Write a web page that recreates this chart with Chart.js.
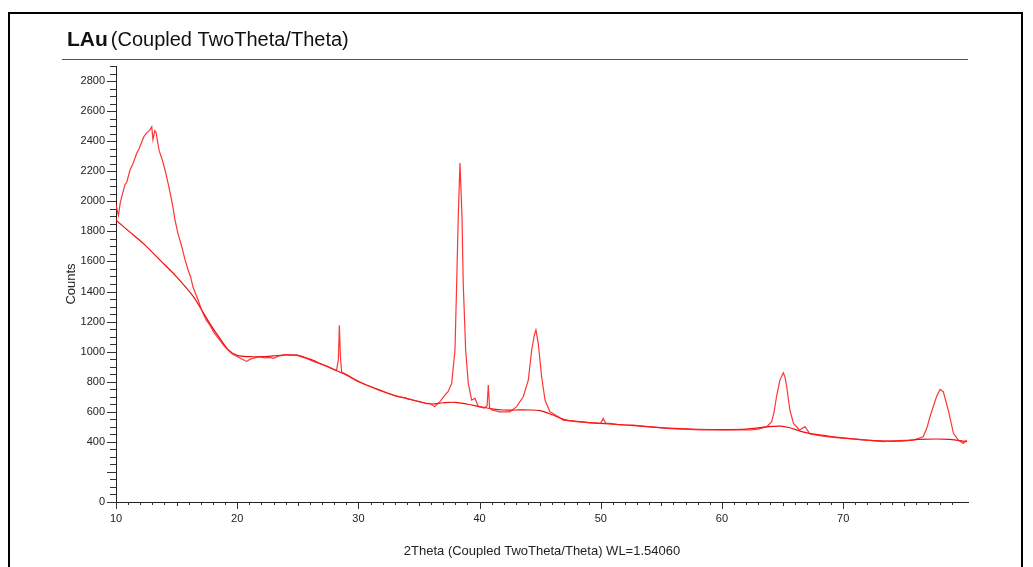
<!DOCTYPE html>
<html>
<head>
<meta charset="utf-8">
<script src="https://cdn.jsdelivr.net/npm/chart.js@4/dist/chart.umd.min.js"></script>
<style>
  html, body { margin: 0; padding: 0; background: #fff; }
  #wrap { width: 1033px; height: 567px; }
</style>
</head>
<body>
<div id="wrap"><canvas id="xrd"></canvas></div>
<script>
// measured pattern (2Theta in degrees, counts)
const twoTheta = [10.0, 10.1, 10.2, 10.35, 10.5, 10.74, 10.9, 11.16, 11.4, 11.71, 11.9, 12.12, 12.3, 12.53, 12.75, 12.95, 13.05, 13.2, 13.3, 13.55, 13.8, 14.04, 14.3, 14.51, 14.7, 14.87, 15.1, 15.42, 15.7, 15.94, 16.15, 16.35, 16.55, 16.77, 17.0, 17.18, 17.45, 17.76, 18.1, 18.58, 18.9, 19.24, 19.6, 19.96, 20.3, 20.78, 21.08, 21.5, 21.88, 22.3, 22.7, 22.98, 23.4, 23.7, 24.08, 24.5, 24.9, 25.3, 25.73, 26.3, 26.83, 27.4, 27.93, 28.2, 28.35, 28.43, 28.52, 28.62, 29.1, 29.58, 30.1, 30.68, 31.2, 31.78, 32.3, 32.88, 33.4, 33.98, 34.5, 35.08, 35.6, 35.9, 36.3, 36.73, 37.15, 37.4, 37.7, 37.97, 38.11, 38.24, 38.38, 38.55, 38.65, 38.85, 39.07, 39.35, 39.62, 39.9, 40.4, 40.62, 40.72, 40.82, 41.0, 41.68, 42.5, 43.06, 43.6, 44.02, 44.3, 44.49, 44.65, 44.84, 45.12, 45.4, 45.8, 46.5, 46.9, 47.6, 48.3, 49.0, 49.66, 50.0, 50.2, 50.4, 50.76, 51.4, 52.1, 52.68, 53.5, 54.4, 55.44, 56.3, 57.2, 58.2, 59.3, 60.4, 61.3, 62.3, 63.0, 63.7, 64.1, 64.3, 64.5, 64.78, 65.06, 65.2, 65.34, 65.6, 65.9, 66.4, 66.85, 67.26, 68.2, 69.18, 70.5, 71.94, 73.3, 74.5, 75.78, 76.6, 76.9, 77.16, 77.7, 77.99, 78.26, 78.67, 79.1, 79.5, 79.9, 80.2];
const counts = [1980, 1940, 1905, 1990, 2040, 2110, 2130, 2210, 2250, 2320, 2350, 2395, 2430, 2455, 2470, 2495, 2410, 2470, 2460, 2340, 2280, 2210, 2120, 2040, 1960, 1875, 1790, 1700, 1610, 1545, 1500, 1430, 1390, 1345, 1290, 1255, 1210, 1175, 1125, 1075, 1040, 1010, 985, 970, 955, 935, 950, 960, 965, 958, 962, 955, 970, 975, 980, 975, 978, 965, 955, 935, 920, 905, 885, 875, 950, 1175, 960, 865, 845, 822, 800, 778, 760, 745, 728, 712, 700, 690, 678, 667, 655, 656, 634, 667, 712, 734, 789, 1011, 1455, 1898, 2254, 1898, 1455, 1011, 789, 678, 690, 634, 625, 640, 778, 630, 612, 600, 600, 634, 700, 811, 1011, 1100, 1144, 1055, 833, 678, 600, 567, 545, 540, 534, 528, 523, 525, 556, 525, 523, 515, 512, 512, 505, 498, 490, 487, 483, 479, 480, 479, 481, 479, 485, 501, 534, 600, 700, 811, 860, 830, 767, 612, 523, 479, 501, 452, 440, 430, 422, 412, 401, 408, 412, 434, 490, 567, 700, 749, 734, 612, 457, 412, 390, 412];

// fitted background
const bgTheta = [10.0, 11.0, 12.25, 13.63, 15.0, 16.4, 17.07, 17.8, 18.6, 19.3, 20.0, 21.0, 22.0, 23.0, 24.0, 25.0, 26.0, 27.0, 28.0, 29.0, 30.0, 31.0, 32.0, 33.0, 34.0, 35.0, 36.0, 37.0, 38.0, 39.0, 40.0, 41.0, 42.0, 43.0, 44.0, 45.0, 46.0, 47.0, 48.0, 50.0, 52.0, 54.0, 56.0, 58.0, 60.0, 62.0, 63.7, 64.8, 65.6, 66.5, 67.3, 69.2, 71.9, 74.7, 76.3, 78.8, 80.2];
const bgCounts = [1875, 1805, 1720, 1609, 1498, 1365, 1277, 1180, 1085, 1010, 975, 967, 967, 972, 978, 975, 950, 915, 880, 845, 800, 768, 735, 708, 688, 668, 652, 660, 663, 650, 635, 620, 612, 612, 612, 608, 580, 548, 535, 523, 512, 500, 490, 484, 482, 485, 500, 505, 494, 470, 455, 434, 412, 405, 417, 417, 401];

const xTickValues = [10, 20, 30, 40, 50, 60, 70];
const yTickLabels = [0, 400, 600, 800, 1000, 1200, 1400, 1600, 1800, 2000, 2200, 2400, 2600, 2800];

const toPoints = (xs, ys) => xs.map((x, i) => ({ x: x, y: ys[i] }));
const FONT = "'Liberation Sans', Arial, sans-serif";

// frame, title and the small tick marks
const decorations = {
    id: "decorations",
    afterDraw(chart) {
        const ctx = chart.ctx;
        const xs = chart.scales.x;
        const ys = chart.scales.y;
        ctx.save();
        ctx.strokeStyle = "#000";
        ctx.lineWidth = 2;
        ctx.strokeRect(9, 13, 1013, 600);

        ctx.fillStyle = "#111";
        ctx.textBaseline = "alphabetic";
        ctx.font = "bold 21px " + FONT;
        ctx.fillText("LAu", 67, 46);
        const w = ctx.measureText("LAu").width;
        ctx.font = "20px " + FONT;
        ctx.fillText("(Coupled TwoTheta/Theta)", 67 + w + 3, 46);

        ctx.strokeStyle = "#555";
        ctx.lineWidth = 1;
        ctx.beginPath();
        ctx.moveTo(62, 59.5);
        ctx.lineTo(968, 59.5);
        ctx.stroke();

        ctx.strokeStyle = "#333";
        ctx.beginPath();
        for (let v = 0; v <= 2900; v += 50) {
            const py = Math.round(ys.getPixelForValue(v)) + 0.5;
            const len = v % 200 === 0 ? 9 : 6;
            ctx.moveTo(xs.left - len, py);
            ctx.lineTo(xs.left, py);
        }
        for (let d = 10; d <= 79; d += 1) {
            const px = Math.round(xs.getPixelForValue(d)) + 0.5;
            const len = d % 10 === 0 ? 7 : (d % 5 === 0 ? 4 : 3);
            ctx.moveTo(px, ys.bottom);
            ctx.lineTo(px, ys.bottom + len);
        }
        ctx.stroke();
        ctx.restore();
    }
};

new Chart(document.getElementById("xrd"), {
    type: "scatter",
    data: {
        datasets: [
            {
                label: "LAu",
                data: toPoints(twoTheta, counts),
                showLine: true,
                borderColor: "rgba(255, 30, 30, 0.9)",
                borderWidth: 1.2,
                pointRadius: 0,
                tension: 0
            },
            {
                label: "Background",
                data: toPoints(bgTheta, bgCounts),
                showLine: true,
                borderColor: "rgba(235, 0, 0, 0.95)",
                borderWidth: 1.2,
                pointRadius: 0,
                tension: 0.3
            }
        ]
    },
    options: {
        responsive: true,
        maintainAspectRatio: false,
        animation: false,
        layout: { padding: { left: 64, top: 66, right: 65, bottom: 0 } },
        plugins: {
            legend: { display: false },
            tooltip: { enabled: false }
        },
        scales: {
            x: {
                type: "linear",
                min: 10,
                max: 80.3,
                grid: { display: false, drawTicks: false },
                border: { display: true, color: "#222", width: 1 },
                afterBuildTicks: s => { s.ticks = xTickValues.map(v => ({ value: v })); },
                afterFit: s => { s.height = 65; },
                ticks: {
                    padding: 10,
                    maxRotation: 0,
                    color: "#222",
                    callback: v => String(v),
                    font: { family: FONT, size: 11 }
                },
                title: {
                    display: true,
                    text: "2Theta (Coupled TwoTheta/Theta) WL=1.54060",
                    color: "#222",
                    padding: { top: 13, bottom: 8 },
                    font: { family: FONT, size: 13 }
                }
            },
            y: {
                min: 0,
                max: 2900,
                grid: { display: false, drawTicks: false },
                border: { display: true, color: "#222", width: 1 },
                afterBuildTicks: s => { s.ticks = yTickLabels.map(v => ({ value: v })); },
                afterFit: s => { s.width = 52; },
                ticks: {
                    padding: 11,
                    color: "#222",
                    callback: v => String(v),
                    font: { family: FONT, size: 11 }
                },
                title: {
                    display: true,
                    text: "Counts",
                    color: "#222",
                    padding: { top: 0, bottom: 0 },
                    font: { family: FONT, size: 13 }
                }
            }
        }
    },
    plugins: [decorations]
});
</script>
</body>
</html>
